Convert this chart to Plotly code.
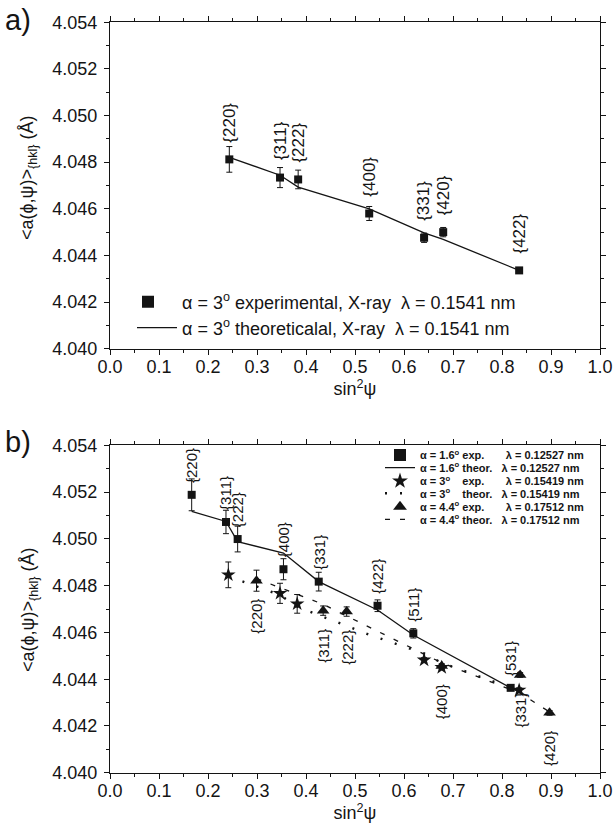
import plotly.graph_objects as go

# ---------------- panel a data ----------------
a_hkl = ["{220}", "{311}", "{222}", "{400}", "{331}", "{420}", "{422}"]
a_sin2psi = [0.2435, 0.347, 0.384, 0.529, 0.641, 0.680, 0.835]
a_exp = [4.04812, 4.04734, 4.04726, 4.04580, 4.04476, 4.04500, 4.04336]
a_err = [0.00055, 0.00043, 0.00040, 0.00030, 0.00020, 0.00020, 0.00008]
a_theor = [4.04821, 4.04744, 4.04693, 4.04600, 4.04497, 4.04469, 4.04336]

# ---------------- panel b data ----------------
b16_hkl = ["{220}", "{311}", "{222}", "{400}", "{331}", "{422}", "{511}", "{531}"]
b16_sin2psi = [0.1667, 0.2367, 0.2605, 0.354, 0.426, 0.546, 0.619, 0.8177]
b16_exp = [4.05188, 4.05072, 4.04999, 4.04870, 4.04817, 4.04714, 4.04596, 4.04363]
b16_err = [0.00068, 0.00050, 0.00055, 0.00045, 0.00040, 0.00025, 0.00020, 0.00010]
b16_theor_x = [0.1667, 0.2367, 0.2605, 0.354, 0.426, 0.546, 0.619, 0.8177, 0.852]
b16_theor = [4.05117, 4.05074, 4.04988, 4.04939, 4.04817, 4.04696, 4.04589, 4.04363, 4.04328]

b30_sin2psi = [0.2415, 0.347, 0.382, 0.641, 0.677, 0.835]
b30_exp = [4.04846, 4.04767, 4.04722, 4.04482, 4.04450, 4.04353]
b30_err = [0.00055, 0.00043, 0.00040, 0.00010, 0.00010, 0.00010]
b30_theor_x = [0.2415, 0.347, 0.382, 0.529, 0.641, 0.677, 0.835]
b30_theor = [4.0484, 4.0476, 4.0471, 4.0459, 4.0451, 4.0447, 4.0435]

b44_hkl = ["{220}", "{311}", "{222}", "{400}", "{331}", "{420}"]
b44_sin2psi = [0.299, 0.435, 0.483, 0.677, 0.837, 0.897]
b44_exp = [4.04821, 4.04693, 4.04689, 4.04456, 4.04418, 4.04256]
b44_err = [0.00045, 0.00020, 0.00020, 0.00010, 0.00010, 0.00010]
b44_theor = [4.0483, 4.0472, 4.0467, 4.0447, 4.0434, 4.0426]

x_ticks = [0.0, 0.1, 0.2, 0.3, 0.4, 0.5, 0.6, 0.7, 0.8, 0.9, 1.0]
y_ticks = [4.040, 4.042, 4.044, 4.046, 4.048, 4.050, 4.052, 4.054]
y_title = "&lt;a(ϕ,ψ)&gt;<sub>{hkl}</sub> (Å)"
x_title = "sin<sup>2</sup>ψ"

INK = "#141414"
FONT = "Liberation Sans, Arial, sans-serif"
NB = "\u00a0"

W, H = 616, 834
ML, MR, MT, MB = 110, 16, 22, 61
PW, PH = W - ML - MR, H - MT - MB


def px_x(p):
    return (p - ML) / PW


def px_y(p):
    return (H - MB - p) / PH


fig = go.Figure()


def errbar(vals):
    return dict(type="data", array=vals, visible=True, color=INK, thickness=1, width=3)


# panel a traces
fig.add_trace(go.Scatter(
    x=a_sin2psi, y=a_exp, mode="markers", xaxis="x", yaxis="y",
    marker=dict(symbol="square", size=8, color=INK),
    error_y=errbar(a_err), legend="legend", showlegend=True,
    name=f"α = 3<sup>o</sup> experimental, X-ray{NB}{NB}λ = 0.1541 nm"))
fig.add_trace(go.Scatter(
    x=a_sin2psi, y=a_theor, mode="lines", xaxis="x", yaxis="y",
    line=dict(color=INK, width=1.3), legend="legend2", showlegend=True,
    name=f"α = 3<sup>o</sup> theoreticalal, X-ray{NB}{NB}λ = 0.1541 nm"))

# panel b traces
fig.add_trace(go.Scatter(
    x=b16_sin2psi, y=b16_exp, mode="markers", xaxis="x2", yaxis="y2",
    marker=dict(symbol="square", size=8, color=INK),
    error_y=errbar(b16_err), legend="legend3",
    name=f"α = 1.6<sup>o</sup> exp.{NB*7}λ = 0.12527 nm"))
fig.add_trace(go.Scatter(
    x=b16_theor_x, y=b16_theor, mode="lines", xaxis="x2", yaxis="y2",
    line=dict(color=INK, width=1.3), legend="legend4",
    name=f"α = 1.6<sup>o</sup> theor.{NB*3}λ = 0.12527 nm"))
fig.add_trace(go.Scatter(
    x=b30_sin2psi, y=b30_exp, mode="markers", xaxis="x2", yaxis="y2",
    marker=dict(symbol="star", size=11, color=INK),
    error_y=errbar(b30_err), legend="legend5",
    name=f"α = 3<sup>o</sup>{NB*4}exp.{NB*7}λ = 0.15419 nm"))
fig.add_trace(go.Scatter(
    x=b30_theor_x, y=b30_theor, mode="lines", xaxis="x2", yaxis="y2",
    line=dict(color=INK, width=2.4, dash="2px,13px"), legend="legend6",
    name=f"α = 3<sup>o</sup>{NB*4}theor.{NB*3}λ = 0.15419 nm"))
fig.add_trace(go.Scatter(
    x=b44_sin2psi, y=b44_exp, mode="markers", xaxis="x2", yaxis="y2",
    marker=dict(symbol="triangle-up", size=11, color=INK),
    error_y=errbar(b44_err), legend="legend7",
    name=f"α = 4.4<sup>o</sup> exp.{NB*7}λ = 0.17512 nm"))
fig.add_trace(go.Scatter(
    x=b44_sin2psi, y=b44_theor, mode="lines", xaxis="x2", yaxis="y2",
    line=dict(color=INK, width=1.3, dash="5px,10px"), legend="legend8",
    name=f"α = 4.4<sup>o</sup> theor.{NB*3}λ = 0.17512 nm"))

annotations = []
for xv, yv, lab in zip(a_sin2psi, a_exp, a_hkl):
    annotations.append(dict(x=xv, y=yv, xref="x", yref="y", text=lab, textangle=-90,
                            showarrow=False, xanchor="center", yanchor="bottom", yshift=15,
                            font=dict(size=17, color=INK, family=FONT)))
for xv, yv, lab in zip(b16_sin2psi, b16_exp, b16_hkl):
    annotations.append(dict(x=xv, y=yv, xref="x2", yref="y2", text=lab, textangle=-90,
                            showarrow=False, xanchor="center", yanchor="bottom", yshift=10,
                            font=dict(size=15, color=INK, family=FONT)))
for xv, yv, lab in zip(b44_sin2psi, b44_exp, b44_hkl):
    annotations.append(dict(x=xv, y=yv, xref="x2", yref="y2", text=lab, textangle=-90,
                            showarrow=False, xanchor="center", yanchor="top", yshift=-16,
                            font=dict(size=15, color=INK, family=FONT)))
annotations.append(dict(x=px_x(3), y=px_y(20), xref="paper", yref="paper", text="a)",
                        showarrow=False, xanchor="left", yanchor="middle",
                        font=dict(size=29, color=INK, family=FONT)))
annotations.append(dict(x=px_x(3), y=px_y(442), xref="paper", yref="paper", text="b)",
                        showarrow=False, xanchor="left", yanchor="middle",
                        font=dict(size=29, color=INK, family=FONT)))
# y-axis titles
for ypx in (178, 610):
    annotations.append(dict(x=px_x(29), y=px_y(ypx), xref="paper", yref="paper",
                            text=y_title, textangle=-90, showarrow=False,
                            xanchor="center", yanchor="middle",
                            font=dict(size=18, color=INK, family=FONT)))


def xax(anchor):
    return dict(anchor=anchor, domain=[0, 1], range=[0, 1], tickvals=x_ticks,
                ticktext=[f"{v:.1f}" for v in x_ticks],
                showline=True, linecolor=INK, linewidth=1.2, mirror="ticks",
                ticks="outside", ticklen=5, tickwidth=1, tickcolor=INK,
                showgrid=False, zeroline=False, ticklabelstandoff=-4,
                tickfont=dict(size=18, color=INK, family=FONT),
                minor=dict(dtick=0.05, ticks="outside", ticklen=3, tickwidth=1,
                           tickcolor=INK, showgrid=False),
                title=dict(text=x_title, standoff=3,
                           font=dict(size=18, color=INK, family=FONT)))


def yax(anchor, dom):
    return dict(anchor=anchor, domain=dom, range=[4.03999, 4.05401], tickvals=y_ticks,
                ticktext=[f"{v:.3f}" for v in y_ticks],
                showline=True, linecolor=INK, linewidth=1.2, mirror="ticks",
                ticks="outside", ticklen=5, tickwidth=1, tickcolor=INK,
                showgrid=False, zeroline=False, ticklabelstandoff=3,
                tickfont=dict(size=18, color=INK, family=FONT),
                minor=dict(dtick=0.001, ticks="outside", ticklen=3, tickwidth=1,
                           tickcolor=INK, showgrid=False))


def leg(xpx, ypx, size, bold, width, constant):
    f = dict(size=size, color=INK, family=FONT)
    if bold:
        f["weight"] = "bold"
    return dict(x=px_x(xpx), y=px_y(ypx), xanchor="left", yanchor="middle",
                bgcolor="rgba(0,0,0,0)", borderwidth=0, itemwidth=width,
                itemsizing="constant" if constant else "trace", font=f)


legends = {
    "legend": leg(114, 302, 18, False, 58, True),
    "legend2": leg(132, 328, 18, False, 40, False),
}
b_rows = [455, 467.7, 481, 493.3, 506.7, 519.3]
for i, ypx in enumerate(b_rows):
    legends[f"legend{i + 3}"] = leg(380, ypx, 11, True, 30, i % 2 == 0)

fig.update_layout(
    width=W, height=H, showlegend=True,
    margin=dict(l=ML, r=MR, t=MT, b=MB, autoexpand=False),
    paper_bgcolor="white", plot_bgcolor="white",
    font=dict(family=FONT, color=INK),
    xaxis=xax("y"), yaxis=yax("x", [px_y(349), 1]),
    xaxis2=xax("y2"), yaxis2=yax("x2", [0, px_y(445)]),
    annotations=annotations,
    **legends,
)

fig.write_html(
    "out.html",
    config={"displayModeBar": False},
    post_script="document.body.style.margin='0';document.body.style.overflow='hidden';",
)
